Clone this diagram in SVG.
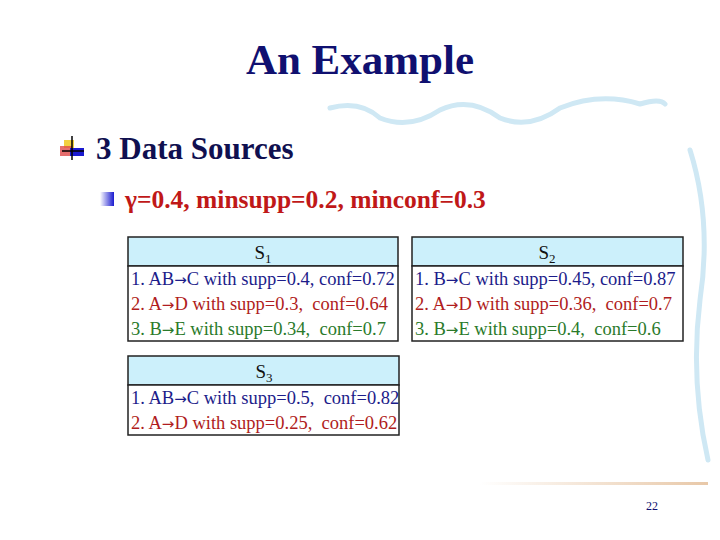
<svg xmlns="http://www.w3.org/2000/svg" width="720" height="540" viewBox="0 0 720 540">
<style>
.t{font-family:"Liberation Serif",serif;font-size:18.5px;white-space:pre}
.b{fill:#1c1c8a}.r{fill:#b01c20}.g{fill:#2a7a2a}
.hd{fill:#ccf0fb;stroke:#222;stroke-width:1.5}
.bx{fill:#fff;stroke:#222;stroke-width:1.5}
.h{font-family:"Liberation Serif",serif;font-size:19px;fill:#111;text-anchor:middle}
.s{font-family:"Liberation Serif",serif}
.a{font-family:"DejaVu Sans",sans-serif;font-size:15px}
</style>
<defs>
<clipPath id="c3"><rect x="128" y="385" width="272" height="50"/></clipPath>
<linearGradient id="sq" x1="0" x2="1"><stop offset="0" stop-color="#fff"/><stop offset="1" stop-color="#1a1ad0"/></linearGradient>
<linearGradient id="bl" x1="0" x2="1"><stop offset="0" stop-color="#fff"/><stop offset="1" stop-color="#e8c8a8"/></linearGradient>
</defs>
<rect width="720" height="540" fill="#fff"/>
<g id="decor" fill="none" stroke="#cfe8f4" stroke-width="5" stroke-linecap="round">
<path d="M330 108 Q360 100 380 118 Q410 130 440 110 Q470 96 500 118 Q530 130 560 108 Q600 92 640 104 Q660 98 665 104"/>
<path d="M690 150 Q712 220 700 300 Q690 380 708 460"/>
</g>
<rect x="480" y="482" width="228" height="3" fill="url(#bl)"/>
<text class="s" x="360" y="74" text-anchor="middle" font-size="43" font-weight="bold" fill="#101070">An Example</text>
<g id="bullet1">
<rect x="64" y="140" width="10" height="8" fill="#f2d040"/>
<rect x="60" y="146" width="12" height="10" fill="#e04a4a" opacity="0.8"/>
<rect x="70" y="148" width="14" height="8" fill="#1a1ad0"/>
<line x1="72" y1="136" x2="72" y2="160" stroke="#000" stroke-width="1.5"/>
<line x1="62" y1="151" x2="84" y2="151" stroke="#000" stroke-width="1.5"/>
</g>
<text class="s" x="96" y="159" font-size="31" font-weight="bold" fill="#101050">3 Data Sources</text>
<rect x="100" y="192" width="14" height="14" fill="url(#sq)"/>
<text class="s" x="125" y="208" font-size="25.5" font-weight="bold" fill="#c01818">γ=0.4, minsupp=0.2, minconf=0.3</text>
<g id="S1">
<rect class="hd" x="128" y="237" width="270" height="29"/>
<rect class="bx" x="128" y="266" width="270" height="75"/>
<text class="h" x="263" y="259">S<tspan font-size="13" dy="4">1</tspan></text>
<text class="t b" x="131" y="285">1. AB<tspan class="a">→</tspan>C with supp=0.4, conf=0.72</text>
<text class="t r" x="131" y="310">2. A<tspan class="a">→</tspan>D with supp=0.3,  conf=0.64</text>
<text class="t g" x="131" y="335">3. B<tspan class="a">→</tspan>E with supp=0.34,  conf=0.7</text>
</g>
<g id="S2">
<rect class="hd" x="412" y="237" width="271" height="29"/>
<rect class="bx" x="412" y="266" width="271" height="75"/>
<text class="h" x="547" y="259">S<tspan font-size="13" dy="4">2</tspan></text>
<text class="t b" x="415" y="285">1. B<tspan class="a">→</tspan>C with supp=0.45, conf=0.87</text>
<text class="t r" x="415" y="310">2. A<tspan class="a">→</tspan>D with supp=0.36,  conf=0.7</text>
<text class="t g" x="415" y="335">3. B<tspan class="a">→</tspan>E with supp=0.4,  conf=0.6</text>
</g>
<g id="S3">
<rect class="hd" x="128" y="356" width="271" height="29"/>
<rect class="bx" x="128" y="385" width="271" height="50"/>
<text class="h" x="264" y="378">S<tspan font-size="13" dy="4">3</tspan></text>
<g clip-path="url(#c3)">
<text class="t b" x="131" y="404">1. AB<tspan class="a">→</tspan>C with supp=0.5,  conf=0.82</text>
<text class="t r" x="131" y="429">2. A<tspan class="a">→</tspan>D with supp=0.25,  conf=0.62</text>
</g>
</g>
<g id="connectors"/>
<text class="s" x="652" y="510" text-anchor="middle" font-size="12" fill="#101070">22</text>
</svg>
